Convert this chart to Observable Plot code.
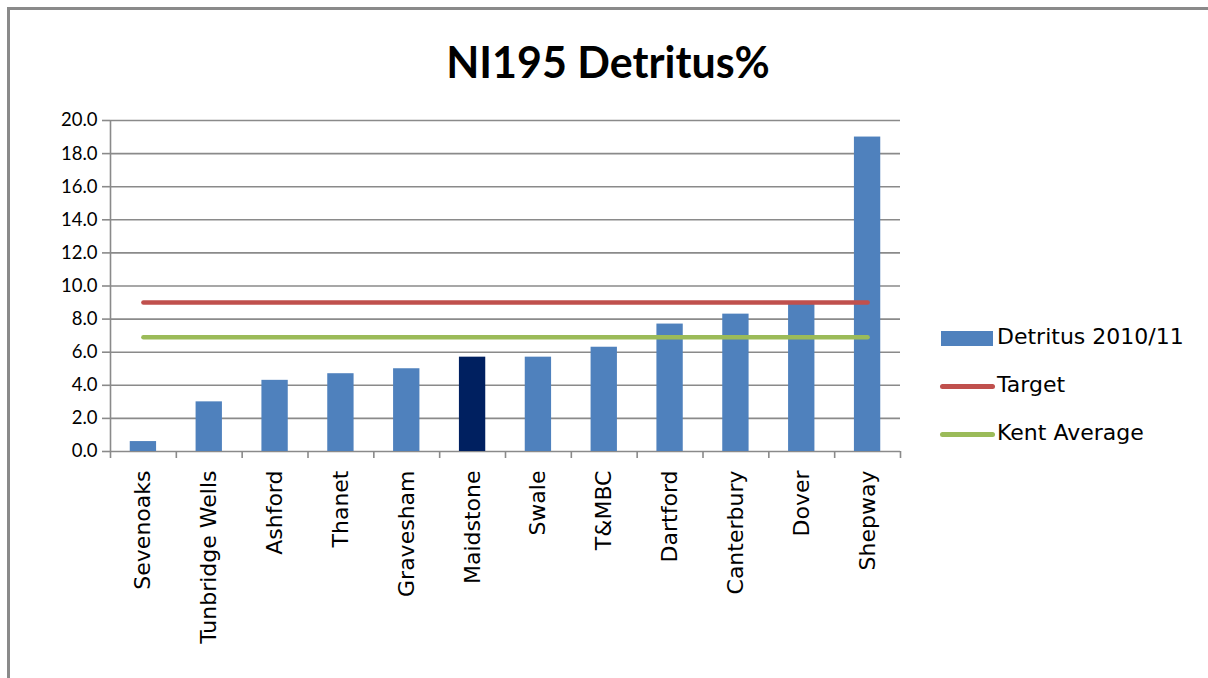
<!DOCTYPE html>
<html>
<head>
<meta charset="utf-8">
<script src="https://cdn.jsdelivr.net/npm/d3@7"></script>
<script src="https://cdn.jsdelivr.net/npm/@observablehq/plot@0.6"></script>
<style>
  html, body { margin: 0; padding: 0; background: #fff; }
  #wrap { position: relative; width: 1208px; height: 678px; overflow: hidden; background: #fff; }
  #frame { position: absolute; left: 7px; top: 7px; width: 1400px; height: 900px; border-left: 3px solid #8a8a8a; border-top: 3px solid #8a8a8a; box-sizing: border-box; }
  #title { position: absolute; left: 0; width: 1216px; top: 40px; text-align: center; font-family: Lato, "Open Sans", sans-serif; font-weight: 700; font-size: 43px; color: #000; line-height: 1; }
  #chart { position: absolute; left: 0; top: 0; }
  .leg { position: absolute; font-family: "DejaVu Sans", sans-serif; font-size: 22px; color: #000; line-height: 1; white-space: nowrap; }
  .sw { position: absolute; }
  .xlab text { font-family: "DejaVu Sans", sans-serif; }
</style>
</head>
<body>
<div id="wrap">
  <div id="frame"></div>
  <div id="chart"></div>
  <div id="title"></div>
  <div id="legend"></div>
</div>
<script>
// ---- data ----
const chartTitle = "NI195 Detritus%";
const categories = ["Sevenoaks", "Tunbridge Wells", "Ashford", "Thanet", "Gravesham", "Maidstone", "Swale", "T&MBC", "Dartford", "Canterbury", "Dover", "Shepway"];
const detritus = [0.6, 3.0, 4.3, 4.7, 5.0, 5.7, 5.7, 6.3, 7.7, 8.3, 8.9, 19.0];
const highlight = "Maidstone";
const target = 9.0;
const kentAverage = 6.9;
const yTicks = [0, 2, 4, 6, 8, 10, 12, 14, 16, 18, 20];
const seriesNames = ["Detritus 2010/11", "Target", "Kent Average"];

// ---- styles ----
const blue = "#4f81bd", navy = "#002060", red = "#c0504d", green = "#9bbb59", grid = "#8a8a8a";
const W = 1208, H = 678, ML = 110, MR = 308, MT = 120, MB = 227;
const step = (W - ML - MR) / categories.length;

const rows = categories.map((c, i) => ({name: c, value: detritus[i]}));
const ends = [categories[0], categories[categories.length - 1]];

const chart = Plot.plot({
  width: W, height: H,
  marginLeft: ML, marginRight: MR, marginTop: MT, marginBottom: MB,
  style: {background: "transparent", overflow: "visible"},
  x: {domain: categories, paddingInner: 0.6, paddingOuter: 0.3, round: false, axis: null},
  y: {domain: [0, 20], axis: null},
  marks: [
    Plot.ruleY(yTicks, {stroke: grid, strokeWidth: 1.6}),
    Plot.ruleX([categories[0]], {y1: 0, y2: 20, dx: -step / 2, stroke: grid, strokeWidth: 1.6}),
    Plot.axisY({ticks: yTicks, tickFormat: d => d.toFixed(1), tickSize: 8, tickPadding: 5,
      stroke: grid, strokeWidth: 1.6, fill: "#000", fontSize: 18.5, fontFamily: "Lato", label: null}),
    Plot.axisX({ticks: categories, tickSize: 7, tickFormat: () => "", dx: -step / 2,
      stroke: grid, strokeWidth: 1.6, label: null}),
    Plot.axisX({ticks: [categories[categories.length - 1]], tickSize: 7, tickFormat: () => "", dx: step / 2,
      stroke: grid, strokeWidth: 1.6, label: null}),
    Plot.axisX({tickRotate: -90, tickSize: 0, tickPadding: 19, fill: "#000",
      fontSize: 22, fontFamily: "DejaVu Sans", className: "xlab", label: null}),
    Plot.barY(rows, {x: "name", y: "value", fill: d => d.name === highlight ? navy : blue}),
    Plot.line(ends, {x: d => d, y: () => target, stroke: red, strokeWidth: 4.5, strokeLinecap: "round"}),
    Plot.line(ends, {x: d => d, y: () => kentAverage, stroke: green, strokeWidth: 4.5, strokeLinecap: "round"})
  ]
});
document.getElementById("chart").appendChild(chart);
document.getElementById("title").textContent = chartTitle;

// ---- legend ----
const leg = document.getElementById("legend");
const legY = [338, 386, 434];
const swatches = [
  {kind: "rect", color: blue},
  {kind: "line", color: red},
  {kind: "line", color: green}
];
seriesNames.forEach((name, i) => {
  const sw = document.createElement("div");
  sw.className = "sw";
  if (swatches[i].kind === "rect") {
    Object.assign(sw.style, {left: "941px", top: (legY[i] - 7) + "px", width: "52px", height: "15px", background: swatches[i].color});
  } else {
    Object.assign(sw.style, {left: "940px", top: (legY[i] - 2.5) + "px", width: "55px", height: "5px", background: swatches[i].color, borderRadius: "3px"});
  }
  leg.appendChild(sw);
  const t = document.createElement("div");
  t.className = "leg";
  t.textContent = name;
  Object.assign(t.style, {left: "997px", top: (legY[i] - 12) + "px"});
  leg.appendChild(t);
});
</script>
</body>
</html>
